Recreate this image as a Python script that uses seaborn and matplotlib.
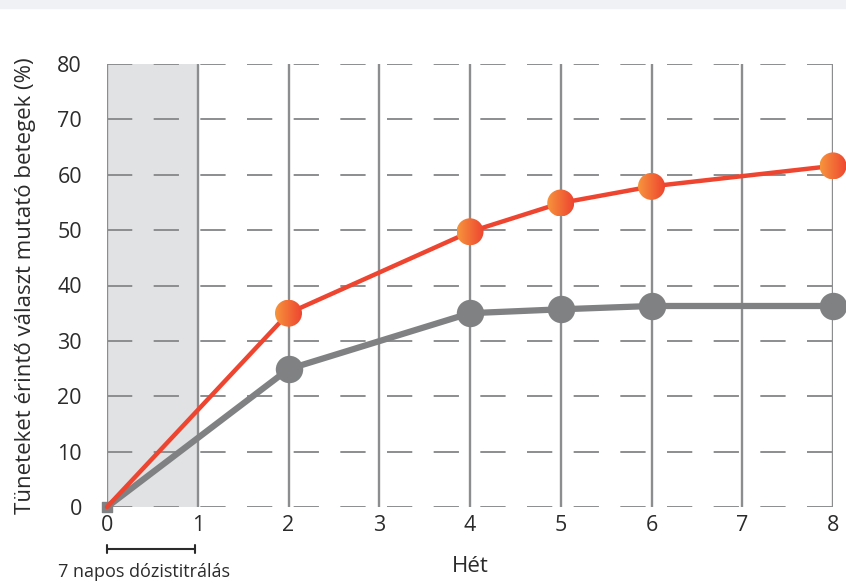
import matplotlib
matplotlib.use("Agg")
import matplotlib.pyplot as plt
import matplotlib.patches as mpatches
import matplotlib.transforms as mtransforms
import numpy as np
import pandas as pd
import seaborn as sns

# data
weeks = [0, 2, 4, 5, 6, 8]
treated = [0, 35.0, 49.7, 54.9, 57.9, 61.6]
control = [0, 24.9, 35.0, 35.7, 36.3, 36.3]
x_ticks = [0, 1, 2, 3, 4, 5, 6, 7, 8]
y_ticks = [0, 10, 20, 30, 40, 50, 60, 70, 80]

red = "#ee4530"
grey = "#7f8183"
grid_col = "#8c8d8f"
txt = "#2b2b2b"

df = pd.DataFrame({
    "week": weeks * 2,
    "value": treated + control,
    "group": ["treated"] * len(weeks) + ["control"] * len(weeks),
})

sns.set_theme(style="white")
plt.rcParams["font.family"] = ["Open Sans", "DejaVu Sans"]

fig = plt.figure(figsize=(8.46, 5.83), dpi=100)
W, H = 846, 583
x0, x1, y0, y1 = 107, 833, 64, 507
ax = fig.add_axes([x0 / W, 1 - y1 / H, (x1 - x0) / W, (y1 - y0) / H])

# light band at the very top of the page
fig.patches.append(mpatches.Rectangle((0, 1 - 8 / H), 1, 8 / H, color="#f0f1f4",
                                      transform=fig.transFigure, zorder=0))

ax.set_xlim(0, 8)
ax.set_ylim(0, 80)

ax.axvspan(0, 1, color="#e1e2e3", zorder=0, lw=0)
for y in y_ticks:
    ax.axhline(y, color=grid_col, lw=1.4, dashes=(13, 11), zorder=1)
for x in x_ticks:
    ax.axvline(x, color=grid_col, lw=1.7, zorder=1)

sns.lineplot(data=df[df.group == "control"], x="week", y="value", color=grey,
             lw=4.5, ax=ax, zorder=3, clip_on=False)
sns.lineplot(data=df[df.group == "treated"], x="week", y="value", color=red,
             lw=3.2, ax=ax, zorder=4, clip_on=False)

ax.scatter([weeks[0]], [control[0]], marker="s", s=45, color=grey, zorder=3,
           clip_on=False)
ax.scatter(weeks[1:], control[1:], color=grey, s=390, linewidths=0,
           zorder=5, clip_on=False)

# gradient-filled markers for the treated series
px_x = (x1 - x0) / 8
px_y = (y1 - y0) / 80
r = 13.5
grad = np.linspace(0, 1, 64)[None, :].repeat(64, axis=0)
cmap = matplotlib.colors.LinearSegmentedColormap.from_list("og", ["#f6943c", "#ee4530"])
for wx, vy in zip(weeks[1:], treated[1:]):
    dx, dy = r / px_x, r / px_y
    circ = mpatches.Ellipse((wx, vy), 2 * dx, 2 * dy, transform=ax.transData,
                            facecolor="none", edgecolor="none")
    ax.add_patch(circ)
    circ.set_clip_on(False)
    im = ax.imshow(grad, cmap=cmap, extent=[wx - dx, wx + dx, vy - dy, vy + dy],
                   aspect="auto", zorder=6, interpolation="bilinear")
    im.set_clip_path(circ)
    im.set_clip_box(fig.bbox)
ax.set_xlim(0, 8)
ax.set_ylim(0, 80)

ax.set_xticks(x_ticks)
ax.set_yticks(y_ticks)
ax.tick_params(axis="both", length=0, labelsize=15.5, colors=txt)
ax.tick_params(axis="y", pad=18)
ax.tick_params(axis="x", pad=6)
for s in ax.spines.values():
    s.set_visible(False)

ax.set_xlabel("Hét", fontsize=16, color=txt, labelpad=14)
ax.set_ylabel("Tüneteket érintő választ mutató betegek (%)", fontsize=16,
              color=txt, labelpad=15)

# dose titration bracket
tr = mtransforms.blended_transform_factory(ax.transData, fig.transFigure)
yb = 1 - 549 / H
ax.plot([0, 0.97], [yb, yb], color=txt, lw=1.5, transform=tr, clip_on=False)
for xe in [0, 0.97]:
    ax.plot([xe, xe], [yb - 4 / H, yb + 4 / H], color=txt, lw=1.5,
            transform=tr, clip_on=False)
fig.text(58 / W, 1 - 572 / H, "7 napos dózistitrálás", fontsize=13,
         color=txt, va="center", ha="left")

fig.savefig("out.png", dpi=100)
